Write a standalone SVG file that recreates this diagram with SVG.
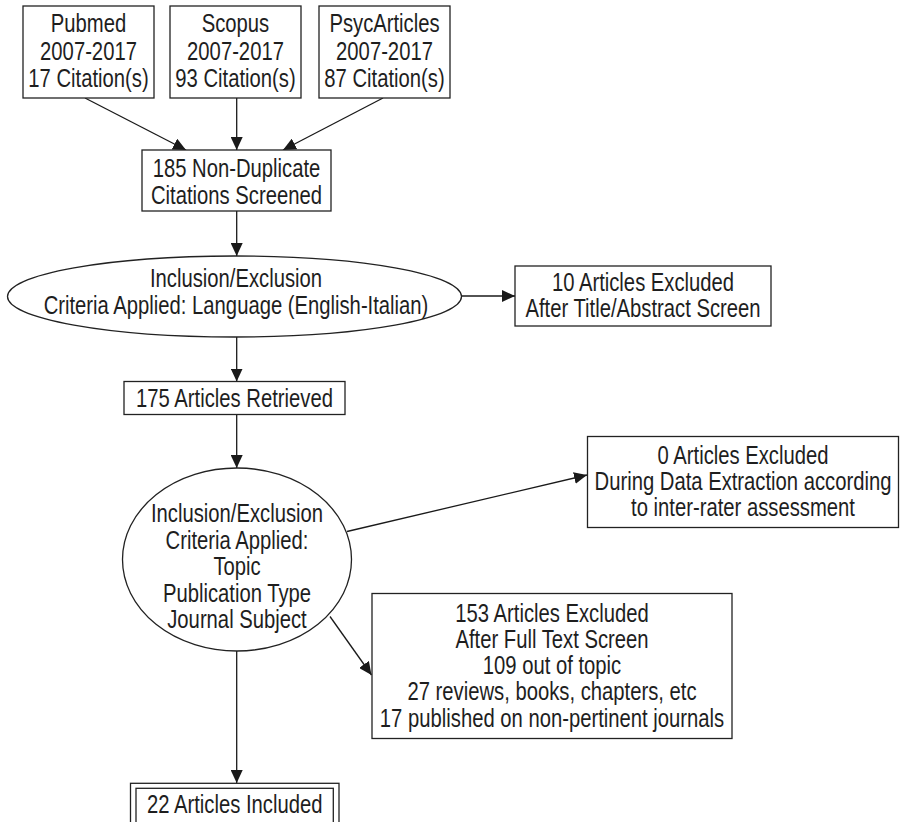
<svg xmlns="http://www.w3.org/2000/svg" width="902" height="822" viewBox="0 0 902 822">
<defs>
<marker id="ah" markerUnits="userSpaceOnUse" markerWidth="13" markerHeight="12" refX="13" refY="6" orient="auto">
<path d="M0,0 L13,6 L0,12 z" fill="#1a1a1a"/>
</marker>
<style>
.box{fill:#fff;stroke:#222;stroke-width:1.3}
.t{font-family:"Liberation Sans",Arial,sans-serif;font-size:25px;fill:#1e1e1e;text-anchor:middle}
.c{stroke:#1a1a1a;stroke-width:1.3;fill:none;marker-end:url(#ah)}
</style>
</defs>
<rect width="902" height="822" fill="#fff"/>
<g id="connectors">
<line class="c" x1="85" y1="98" x2="186" y2="150"/>
<line class="c" x1="236.7" y1="98" x2="236.7" y2="150"/>
<line class="c" x1="383" y1="98" x2="283" y2="150"/>
<line class="c" x1="236.7" y1="211" x2="236.7" y2="256"/>
<line class="c" x1="461" y1="296" x2="515" y2="296"/>
<line class="c" x1="236.7" y1="337" x2="236.7" y2="381.5"/>
<line class="c" x1="236.7" y1="415" x2="236.7" y2="468"/>
<line class="c" x1="347" y1="531.5" x2="587" y2="475"/>
<line class="c" x1="330" y1="616.5" x2="371.5" y2="675"/>
<line class="c" x1="236.7" y1="651" x2="236.7" y2="783"/>
</g>
<g id="pubmed">
<rect class="box" x="23" y="6" width="131" height="92"/>
<text class="t" transform="translate(88.5 0) scale(0.81 1)"><tspan x="0" y="32.5">Pubmed</tspan><tspan x="0" y="60">2007-2017</tspan><tspan x="0" y="87.5">17 Citation(s)</tspan></text>
</g>
<g id="scopus">
<rect class="box" x="170" y="6" width="131" height="92"/>
<text class="t" transform="translate(235.5 0) scale(0.81 1)"><tspan x="0" y="32.5">Scopus</tspan><tspan x="0" y="60">2007-2017</tspan><tspan x="0" y="87.5">93 Citation(s)</tspan></text>
</g>
<g id="psycarticles">
<rect class="box" x="319" y="6" width="131" height="92"/>
<text class="t" transform="translate(384.5 0) scale(0.81 1)"><tspan x="0" y="32.5">PsycArticles</tspan><tspan x="0" y="60">2007-2017</tspan><tspan x="0" y="87.5">87 Citation(s)</tspan></text>
</g>
<g id="screened">
<rect class="box" x="142" y="150" width="189" height="61"/>
<text class="t" transform="translate(236.5 0) scale(0.81 1)"><tspan x="0" y="177.5">185 Non-Duplicate</tspan><tspan x="0" y="204.5">Citations Screened</tspan></text>
</g>
<g id="criteria1">
<ellipse class="box" cx="234.5" cy="296.5" rx="227" ry="40.5"/>
<text class="t" transform="translate(236 0) scale(0.81 1)"><tspan x="0" y="287.5">Inclusion/Exclusion</tspan><tspan x="0" y="314.5">Criteria Applied: Language (English-Italian)</tspan></text>
</g>
<g id="excluded10">
<rect class="box" x="515" y="266" width="256" height="60"/>
<text class="t" transform="translate(643 0) scale(0.81 1)"><tspan x="0" y="291.5">10 Articles Excluded</tspan><tspan x="0" y="317.5">After Title/Abstract Screen</tspan></text>
</g>
<g id="retrieved">
<rect class="box" x="124" y="381.5" width="221" height="33"/>
<text class="t" transform="translate(234.5 0) scale(0.81 1)"><tspan x="0" y="407.3">175 Articles Retrieved</tspan></text>
</g>
<g id="criteria2">
<ellipse class="box" cx="237" cy="559.5" rx="114.5" ry="91.5"/>
<text class="t" transform="translate(237 0) scale(0.81 1)"><tspan x="0" y="522.5">Inclusion/Exclusion</tspan><tspan x="0" y="549">Criteria Applied:</tspan><tspan x="0" y="575.5">Topic</tspan><tspan x="0" y="602">Publication Type</tspan><tspan x="0" y="628.5">Journal Subject</tspan></text>
</g>
<g id="excluded0">
<rect class="box" x="587.5" y="436.5" width="311" height="91"/>
<text class="t" transform="translate(743 0) scale(0.81 1)"><tspan x="0" y="464.5">0 Articles Excluded</tspan><tspan x="0" y="490.5">During Data Extraction according</tspan><tspan x="0" y="516.5">to inter-rater assessment</tspan></text>
</g>
<g id="excluded153">
<rect class="box" x="372" y="593.5" width="360" height="145"/>
<text class="t" transform="translate(552 0) scale(0.81 1)"><tspan x="0" y="622">153 Articles Excluded</tspan><tspan x="0" y="648">After Full Text Screen</tspan><tspan x="0" y="674.5">109 out of topic</tspan><tspan x="0" y="700.5">27 reviews, books, chapters, etc</tspan><tspan x="0" y="727">17 published on non-pertinent journals</tspan></text>
</g>
<g id="included">
<rect class="box" x="130.5" y="783.3" width="208.5" height="50"/>
<rect class="box" x="136" y="788.3" width="197.3" height="42"/>
<text class="t" transform="translate(234.7 0) scale(0.81 1)"><tspan x="0" y="813.5">22 Articles Included</tspan></text>
</g>
</svg>
